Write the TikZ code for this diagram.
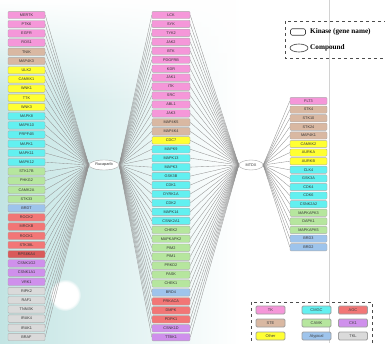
\documentclass[tikz,border=0pt]{standalone}
\usepackage{fontspec}
\setmainfont{Liberation Serif}
\newfontfamily\boxfont{Liberation Sans}
\usetikzlibrary{shapes.geometric,fadings}
\definecolor{cTK}{HTML}{F597D9}
\definecolor{cSTE}{HTML}{D9B8A2}
\definecolor{cOther}{HTML}{FFFF33}
\definecolor{cCMGC}{HTML}{62F0F0}
\definecolor{cCAMK}{HTML}{B6E69E}
\definecolor{cAtyp}{HTML}{9EC4EC}
\definecolor{cAGC}{HTML}{F27676}
\definecolor{cAGCd}{HTML}{D95A5A}
\definecolor{cCK}{HTML}{CF90EC}
\definecolor{cTKL}{HTML}{DADADA}
\definecolor{bgteal}{HTML}{C2E4E3}
\pgfdeclarelayer{bg}
\pgfdeclarelayer{fanlayer}
\pgfsetlayers{bg,fanlayer,main}
\tikzset{
  kin/.style={draw=gray!65, line width=0.4pt, rounded corners=1pt, minimum width=37pt,
    minimum height=7.4pt, inner sep=0pt, font=\boxfont\fontsize{3.8}{4}\selectfont, text=black!80},
  cmpd/.style={ellipse, draw=gray!70, line width=0.4pt, fill=white, inner sep=0pt,
    minimum width=30pt, minimum height=10pt, font=\boxfont\fontsize{3.8}{4}\selectfont, text=black!80},
  fan/.style={gray!85, line width=0.35pt},
  legsw/.style={draw=gray!75, line width=0.9pt, rounded corners=1.2pt, minimum width=29pt,
    minimum height=8pt, inner sep=0pt, font=\boxfont\fontsize{4}{4}\selectfont, text=black!75},
  legtext/.style={anchor=west, inner sep=0pt, font=\bfseries\fontsize{7.2}{8}\selectfont},
  legframe/.style={draw=black!70, dashed, line width=0.6pt}
}
\begin{document}
\begin{tikzpicture}[x=1pt, y=-1pt]
\useasboundingbox (0,0) rectangle (385,343);
\clip (0,0) rectangle (385,343);
\begin{pgfonlayer}{bg}
  \fill[white] (0,0) rectangle (385,343);
  \fill[left color=bgteal, right color=white] (0,0) rectangle (240,343);
  \fill[white, path fading=south] (0,0) rectangle (240,105);
  \fill[white, path fading=circle with fuzzy edge 20 percent] (65,295) circle (16);
  \draw[gray!35, line width=1pt] (329,0) -- (329,343);
\end{pgfonlayer}

% left column
\foreach \lab/\col [count=\i] in {MERTK/cTK, PTK6/cTK, EGFR/cTK, ROS1/cTK,
  TNIK/cSTE, MAP4K3/cSTE,
  ULK2/cOther, CAMKK1/cOther, WNK1/cOther, TTK/cOther, WNK3/cOther,
  MAPK8/cCMGC, MAPK10/cCMGC, PRPF4B/cCMGC, MAPK1/cCMGC, MAPK11/cCMGC, MAPK12/cCMGC,
  STK17B/cCAMK, PHKG2/cCAMK, CAMK2A/cCAMK, STK33/cCAMK,
  BRDT/cAtyp,
  ROCK2/cAGC, MRCKB/cAGC, ROCK1/cAGC, STK38L/cAGC, RPS6KA4/cAGCd,
  CSNK1G2/cCK, CSNK1A1/cCK, VRK1/cCK,
  RIPK2/cTKL, RAF1/cTKL, TNNI3K/cTKL, IRAK4/cTKL, IRAK1/cTKL, BRAF/cTKL}
  \node[kin, fill=\col] (L\i) at (26.5,{15+9.2*(\i-1)}) {\lab};

% middle column
\foreach \lab/\col [count=\i] in {LCK/cTK, SYK/cTK, TYK2/cTK, JAK2/cTK, BTK/cTK, PDGFRB/cTK,
  KDR/cTK, JAK1/cTK, ITK/cTK, SRC/cTK, ABL1/cTK, JAK3/cTK,
  MAP4K5/cSTE, MAP4K4/cSTE,
  CDC7/cOther,
  MAPK9/cCMGC, MAPK13/cCMGC, MAPK3/cCMGC, GSK3B/cCMGC, CDK1/cCMGC, DYRK1A/cCMGC,
  CDK2/cCMGC, MAPK14/cCMGC, CSNK2A1/cCMGC,
  CHEK2/cCAMK, MAPKAPK2/cCAMK, PIM2/cCAMK, PIM1/cCAMK, PRKD2/cCAMK, PASK/cCAMK, CHEK1/cCAMK,
  BRD4/cAtyp,
  PRKACA/cAGC, DMPK/cAGC, PDPK1/cAGC,
  CSNK1D/cCK, TTBK1/cCK}
  \node[kin, fill=\col, minimum width=38pt] (M\i) at (171,{15+8.95*(\i-1)}) {\lab};

% right column
\foreach \lab/\col [count=\i] in {FLT3/cTK,
  STK4/cSTE, STK10/cSTE, STK24/cSTE, MAP4K1/cSTE,
  CAMKK2/cOther, AURKA/cOther, AURKB/cOther,
  CLK4/cCMGC, GSK3A/cCMGC, CDK4/cCMGC, CDK6/cCMGC, CSNK2A2/cCMGC,
  MAPKAPK3/cCAMK, DAPK1/cCAMK, MAPKAPK5/cCAMK,
  BRD3/cAtyp, BRD2/cAtyp}
  \node[kin, fill=\col, minimum height=7.2pt] (R\i) at (308.5,{101+8.6*(\i-1)}) {\lab};

% compounds
\node[cmpd] (ruc) at (104,165) {Rucaparib};
\node[cmpd, minimum width=24pt] (mtd) at (251,165) {MTDX};

\begin{pgfonlayer}{fanlayer}
  \foreach \i in {1,...,36} \draw[fan] (L\i.east) -- (ruc.west);
  \foreach \i in {1,...,37} {
    \draw[fan] (ruc.east) -- (M\i.west);
    \draw[fan] (M\i.east) -- (mtd.west);
  }
  \foreach \i in {1,...,18} \draw[fan] (mtd.east) -- (R\i.west);
\end{pgfonlayer}

% top legend
\draw[legframe] (285,21) rectangle (392,58);
\node[draw=black!75, line width=0.6pt, rounded corners=1.5pt, minimum width=15pt, minimum height=6.5pt, inner sep=0pt] (lk) at (298,32) {};
\node[legtext] (lkt) at (310,32) {Kinase (gene name)};
\node[ellipse, draw=black!75, line width=0.6pt, minimum width=18pt, minimum height=8pt, inner sep=0pt] (lc) at (299,48) {};
\node[legtext] (lct) at (310,48) {Compound};

% bottom legend
\draw[legframe] (251,302) rectangle (372,352);
\node[legsw, fill=cTK] (g1) at (270.5,310) {TK};
\node[legsw, fill=cCMGC] (g2) at (316.5,310) {CMGC};
\node[legsw, fill=cAGC] (g3) at (353,310) {AGC};
\node[legsw, fill=cSTE] (g4) at (270.5,323) {STE};
\node[legsw, fill=cCAMK] (g5) at (316.5,323) {CAMK};
\node[legsw, fill=cCK] (g6) at (353,323) {CK1};
\node[legsw, fill=cOther] (g7) at (270.5,336) {Other};
\node[legsw, fill=cAtyp] (g8) at (316.5,336) {Atypical};
\node[legsw, fill=cTKL] (g9) at (353,336) {TKL};
\end{tikzpicture}
\end{document}
